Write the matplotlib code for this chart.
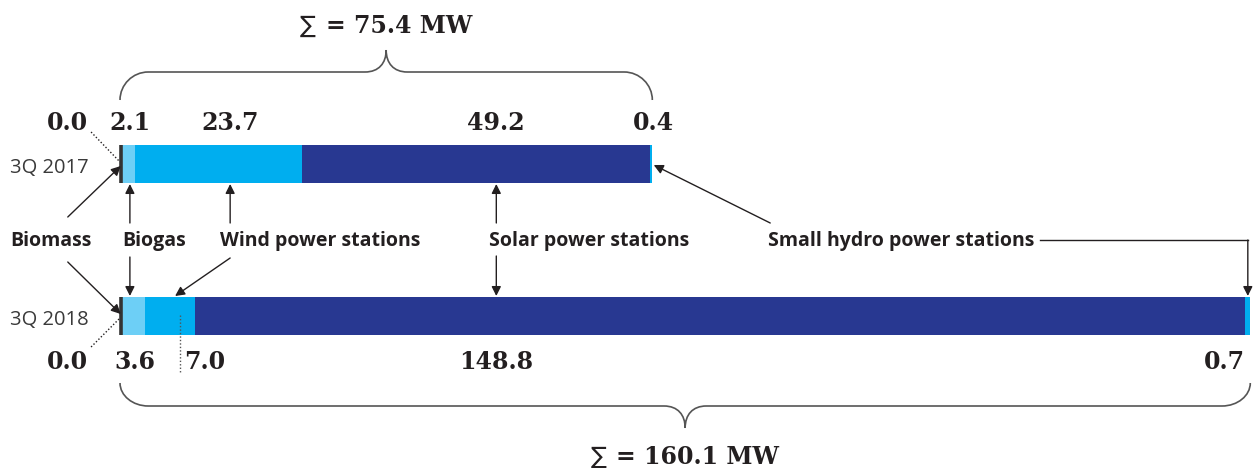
import matplotlib

matplotlib.use("Agg")
import matplotlib.pyplot as plt
import numpy as np
from matplotlib.patches import PathPatch
from matplotlib.path import Path

# Installed capacity by source, MW
PERIODS = ["3Q 2017", "3Q 2018"]
SOURCES = ["Biomass", "Biogas", "Wind power stations", "Solar power stations",
           "Small hydro power stations"]
CAPACITY_2017 = [0.0, 2.1, 23.7, 49.2, 0.4]
CAPACITY_2018 = [0.0, 3.6, 7.0, 148.8, 0.7]
COLORS = ["#333333", "#6dcff6", "#00aeef", "#283891", "#00aeef"]

INK = "#231f20"
NUM_FONT = dict(family=["DejaVu Serif", "DejaVu Sans"], weight="bold", size=17, color=INK)
CAT_FONT = dict(family="Open Sans", weight="bold", size=14, color=INK)

# layout: x in MW, y in pixels from the top
BAR_Y = [164, 316]
BAR_H = 38


def draw_brace(ax, x0, x1, y_end, y_line, y_tip, r_end=4.0, r_tip=3.0):
    """Curly brace spanning x0..x1 with its tip at the middle."""
    xm = (x0 + x1) / 2
    k = 0.55
    dy = y_line - y_end
    tip = y_tip - y_line
    verts = [
        (x0, y_end), (x0, y_end + k * dy), (x0 + (1 - k) * r_end, y_line), (x0 + r_end, y_line),
        (xm - r_tip, y_line),
        (xm - r_tip * 0.35, y_line), (xm, y_line + 0.4 * tip), (xm, y_tip),
        (xm, y_line + 0.4 * tip), (xm + r_tip * 0.35, y_line), (xm + r_tip, y_line),
        (x1 - r_end, y_line),
        (x1 - (1 - k) * r_end, y_line), (x1, y_end + k * dy), (x1, y_end),
    ]
    codes = [Path.MOVETO, Path.CURVE4, Path.CURVE4, Path.CURVE4,
             Path.LINETO,
             Path.CURVE4, Path.CURVE4, Path.CURVE4,
             Path.CURVE4, Path.CURVE4, Path.CURVE4,
             Path.LINETO,
             Path.CURVE4, Path.CURVE4, Path.CURVE4]
    ax.add_patch(PathPatch(Path(verts, codes), fill=False, lw=1.2, ec="#555555"))


def arrow(ax, start, end):
    ax.annotate("", xy=end, xytext=start,
                arrowprops=dict(arrowstyle="-|>", lw=1.0, color=INK,
                                mutation_scale=14, shrinkA=0, shrinkB=0))


def total_label(ax, x, y, total):
    """Bold total with a light sum sign in front of it."""
    t = ax.text(x + 1.8, y, f"= {total:.1f} MW", ha="center", va="baseline", **NUM_FONT)
    ax.annotate("∑", xy=(0, y), xycoords=(t, "data"), xytext=(-7, 0),
                textcoords="offset points", ha="right", va="baseline",
                family="DejaVu Sans", size=17, color=INK)


fig = plt.figure(figsize=(12.57, 4.68), dpi=100)
ax = fig.add_axes([0, 0, 1, 1])
ax.set_xlim(-17.0, 161.05)
ax.set_ylim(468, 0)
ax.axis("off")

# stacked bars
for y, values in zip(BAR_Y, [CAPACITY_2017, CAPACITY_2018]):
    left = np.concatenate([[0], np.cumsum(values)[:-1]])
    ax.barh(y, values, left=left, height=BAR_H, color=COLORS, linewidth=0)
    # biomass is 0 MW, shown as a thin rule at its start
    ax.plot([left[0] + 0.2, left[0] + 0.2], [y - BAR_H / 2, y + BAR_H / 2],
            color=COLORS[0], lw=2.6, solid_capstyle="butt")

for y, name in zip(BAR_Y, PERIODS):
    ax.text(-15.6, y + 9, name, family="Open Sans", size=14.5, color="#3a3a3a",
            ha="left", va="baseline")

# value labels
LABEL_X_2017 = [-7.4, 1.4, 15.6, 53.3, 75.5]
LABEL_X_2018 = [-7.4, 2.1, 12.0, 53.3, 156.5]
for x, v in zip(LABEL_X_2017, CAPACITY_2017):
    ax.text(x, 130, f"{v:.1f}", ha="center", va="baseline", **NUM_FONT)
for x, v in zip(LABEL_X_2018, CAPACITY_2018):
    ax.text(x, 369, f"{v:.1f}", ha="center", va="baseline", **NUM_FONT)

# leader lines for the small values
ax.plot([-4.1, 0], [132, 162], color=INK, lw=1.0, ls=(0, (1, 1.5)))
ax.plot([-4.1, 0], [347, 318], color=INK, lw=1.0, ls=(0, (1, 1.5)))
ax.plot([8.5, 8.5], [315, 372], color="#555555", lw=1.0, ls=(0, (1, 1.5)))

# source labels
CAT_X = [-15.6, 0.3, 14.2, 52.3, 91.8]
for x, name in zip(CAT_X, SOURCES):
    ax.text(x, 246, name, ha="left", va="baseline", **CAT_FONT)

arrow(ax, (-7.4, 217), (0.1, 166))
arrow(ax, (-7.4, 262), (0.1, 314))
arrow(ax, (1.4, 223), (1.4, 184))
arrow(ax, (1.4, 257), (1.4, 296))
arrow(ax, (15.6, 223), (15.6, 184))
arrow(ax, (15.6, 258), (7.8, 296))
arrow(ax, (53.3, 223), (53.3, 184))
arrow(ax, (53.3, 256), (53.3, 296))
arrow(ax, (92.1, 223), (sum(CAPACITY_2017) + 0.2, 165))
hydro_x = sum(CAPACITY_2018) - CAPACITY_2018[-1] / 2
ax.plot([130.3, hydro_x], [240, 240], color=INK, lw=1.0)
arrow(ax, (hydro_x, 240), (hydro_x, 296))

# totals
total_2017 = sum(CAPACITY_2017)
total_2018 = sum(CAPACITY_2018)
draw_brace(ax, 0, total_2017, 100, 72, 50)
draw_brace(ax, 0, total_2018, 383, 406, 428)
total_label(ax, total_2017 / 2, 33, total_2017)
total_label(ax, total_2018 / 2, 464, total_2018)

fig.savefig("out.png", dpi=100)
